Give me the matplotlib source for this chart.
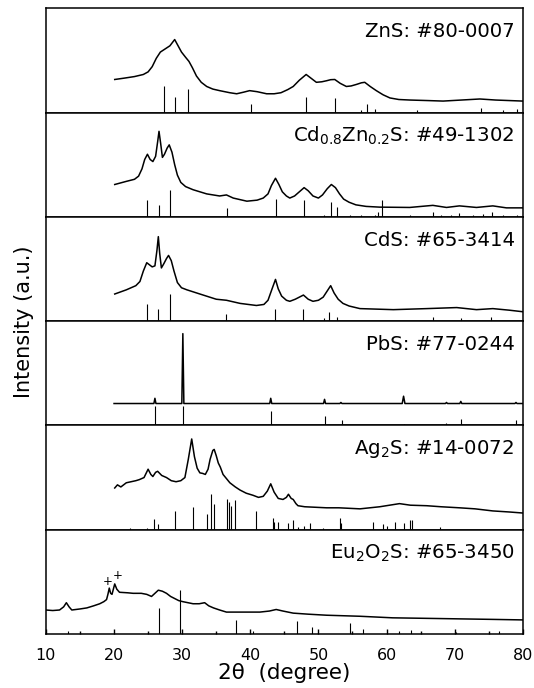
import matplotlib
matplotlib.use('Agg')
import matplotlib.pyplot as plt

# ZnS
zns_x = [20.1, 21.5, 23.0, 24.3, 25.0, 25.6, 26.2, 26.8, 27.5, 28.2, 28.9, 29.4, 29.9, 30.5, 31.0,
         31.5, 32.1, 32.8, 33.6, 34.5, 35.5, 37.0, 38.0, 39.0, 39.9, 41.0, 42.4, 43.5, 44.5, 45.5,
         46.3, 47.2, 48.2, 48.9, 49.7, 50.5, 51.2, 51.8, 52.4, 53.2, 54.1, 54.8, 55.6, 56.3, 56.8,
         57.6, 58.5, 59.5, 60.5, 61.8, 63.4, 66.0, 68.3, 71.0, 73.7, 76.0, 78.0, 80.0]
zns_y = [0.317, 0.33, 0.345, 0.365, 0.39, 0.44, 0.52, 0.58, 0.61, 0.64, 0.70, 0.64, 0.58, 0.53, 0.49,
         0.43, 0.35, 0.29, 0.25, 0.225, 0.21, 0.19, 0.18, 0.195, 0.21, 0.20, 0.18, 0.18, 0.19, 0.22,
         0.25, 0.31, 0.365, 0.33, 0.29, 0.295, 0.305, 0.315, 0.317, 0.28, 0.25, 0.255, 0.27, 0.285, 0.29,
         0.25, 0.21, 0.17, 0.14, 0.125, 0.12, 0.115, 0.11, 0.12, 0.13, 0.12, 0.115, 0.11]
zns_sticks = [27.3, 28.9, 30.9, 40.1, 48.2, 52.4, 56.3, 57.1, 58.3, 64.4, 73.9, 77.1, 79.1]
zns_sticks_h = [0.25, 0.15, 0.23, 0.08, 0.15, 0.14, 0.02, 0.08, 0.03, 0.02, 0.04, 0.02, 0.03]

# Cd0.8Zn0.2S
cdzns_x = [20.1, 21.8, 23.0, 23.6, 24.1, 24.5, 24.9, 25.3, 25.7, 26.1, 26.4, 26.6, 26.85, 27.1,
           27.4, 27.8, 28.1, 28.5, 28.9, 29.3, 29.8, 30.5, 31.6, 33.6, 35.5, 36.5, 37.5, 39.5,
           41.0, 41.9, 42.6, 43.1, 43.7, 44.2, 44.7, 45.3, 45.8, 46.5, 47.2, 47.9, 48.5, 49.2,
           50.0, 50.6, 51.3, 51.9, 52.5, 53.1, 53.7, 54.5, 55.5, 57.0, 59.0, 63.4, 66.8, 68.8,
           70.7, 73.2, 75.6, 77.6, 80.0]
cdzns_y = [0.31, 0.34, 0.36, 0.39, 0.46, 0.55, 0.60, 0.55, 0.53, 0.58, 0.72, 0.82, 0.70, 0.57,
           0.60, 0.66, 0.69, 0.62, 0.50, 0.40, 0.33, 0.29, 0.26, 0.22, 0.20, 0.21, 0.18, 0.15,
           0.16, 0.18, 0.22, 0.30, 0.37, 0.31, 0.24, 0.20, 0.18, 0.20, 0.24, 0.28, 0.25, 0.20,
           0.18, 0.21, 0.27, 0.31, 0.28, 0.22, 0.17, 0.14, 0.115, 0.10, 0.093, 0.09, 0.11, 0.09,
           0.105, 0.09, 0.105, 0.086, 0.086]
cdzns_sticks = [24.9, 26.6, 28.2, 36.6, 43.8, 47.9, 50.8, 51.8, 52.8, 54.6, 56.3, 58.3, 58.8, 59.4,
                63.4, 66.8, 68.0, 69.5, 70.7, 72.7, 74.1, 75.5, 77.1, 79.1]
cdzns_sticks_h = [0.16, 0.11, 0.26, 0.086, 0.175, 0.166, 0.02, 0.144, 0.09, 0.016, 0.016, 0.02, 0.05, 0.16,
                  0.016, 0.05, 0.02, 0.02, 0.04, 0.02, 0.03, 0.05, 0.02, 0.02]

# CdS
cds_x = [20.1, 21.8, 23.2, 23.8, 24.3, 24.8, 25.2, 25.6, 26.0, 26.3, 26.5, 26.7, 26.95, 27.3,
         27.7, 28.0, 28.4, 28.8, 29.3, 29.9, 30.7, 32.6, 35.0, 36.5, 38.5, 40.9, 42.0, 42.6,
         43.2, 43.7, 44.1, 44.6, 45.3, 45.8, 46.6, 47.2, 47.8, 48.5, 49.2, 50.0, 50.7, 51.3,
         51.8, 52.3, 52.9, 53.6, 54.5, 56.1, 61.0, 65.9, 70.3, 73.2, 75.6, 78.0, 80.0]
cds_y = [0.26, 0.30, 0.34, 0.38, 0.48, 0.56, 0.54, 0.52, 0.53, 0.68, 0.81, 0.65, 0.51, 0.55,
         0.60, 0.63, 0.58, 0.48, 0.37, 0.32, 0.30, 0.26, 0.21, 0.20, 0.17, 0.15, 0.16, 0.20,
         0.31, 0.40, 0.31, 0.24, 0.20, 0.19, 0.21, 0.23, 0.25, 0.21, 0.19, 0.20, 0.23, 0.29,
         0.34, 0.27, 0.21, 0.17, 0.145, 0.12, 0.11, 0.12, 0.13, 0.11, 0.12, 0.105, 0.09]
cds_sticks = [24.9, 26.5, 28.2, 36.5, 43.7, 47.8, 50.8, 51.6, 52.8, 66.8, 70.9, 75.3]
cds_sticks_h = [0.166, 0.12, 0.26, 0.07, 0.12, 0.12, 0.03, 0.09, 0.04, 0.04, 0.03, 0.04]

# PbS
pbs_x = [20.0, 25.85, 26.0, 26.15, 29.95, 30.1, 30.25, 42.85, 43.0, 43.15, 50.75, 50.9, 51.05,
         53.15, 53.3, 53.45, 62.3, 62.5, 62.7, 68.65, 68.8, 68.95, 70.75, 70.9, 71.05, 78.85,
         79.0, 79.15, 80.0]
pbs_y = [0.21, 0.21, 0.26, 0.21, 0.21, 0.88, 0.21, 0.21, 0.26, 0.21, 0.21, 0.25, 0.21,
         0.21, 0.22, 0.21, 0.21, 0.28, 0.21, 0.21, 0.22, 0.21, 0.21, 0.23, 0.21, 0.21,
         0.22, 0.21, 0.21]
pbs_sticks = [26.0, 30.1, 43.0, 50.9, 53.4, 62.5, 68.8, 70.9, 79.0]
pbs_sticks_h = [0.19, 0.19, 0.135, 0.087, 0.055, 0.016, 0.026, 0.058, 0.048]

# Ag2S
ag2s_x = [20.1, 20.5, 21.0, 21.8, 22.5, 23.2, 23.7, 24.4, 25.0, 25.4, 25.7, 26.1, 26.4, 27.0,
          27.7, 28.4, 29.1, 29.8, 30.4, 30.9, 31.4, 31.8, 32.2, 32.6, 33.0, 33.4, 33.8, 34.1,
          34.5, 34.7, 35.0, 35.3, 35.6, 36.0, 36.5, 37.0, 37.8, 38.5, 39.4, 40.4, 41.2, 41.9,
          42.5, 43.0, 43.5, 44.1, 44.8, 45.3, 45.6, 46.0, 46.3, 46.7, 47.0, 48.0, 51.2, 53.0,
          56.1, 59.0, 61.9, 63.5, 65.9, 68.0, 70.7, 73.0, 75.6, 78.0, 80.0]
ag2s_y = [0.40, 0.43, 0.41, 0.45, 0.46, 0.47, 0.48, 0.50, 0.58, 0.53, 0.51, 0.55, 0.56, 0.52,
          0.50, 0.47, 0.46, 0.47, 0.50, 0.675, 0.87, 0.70, 0.59, 0.545, 0.54, 0.53, 0.58, 0.675,
          0.76, 0.77, 0.71, 0.64, 0.60, 0.53, 0.49, 0.45, 0.41, 0.38, 0.35, 0.33, 0.31, 0.32,
          0.37, 0.44, 0.36, 0.30, 0.29, 0.31, 0.34, 0.30, 0.29, 0.25, 0.23, 0.22, 0.21, 0.21,
          0.20, 0.22, 0.25, 0.235, 0.23, 0.22, 0.21, 0.20, 0.18, 0.17, 0.16]
ag2s_sticks = [22.3, 24.9, 25.9, 26.4, 29.0, 31.6, 33.6, 34.3, 34.7, 36.6, 36.9, 37.2, 37.7, 40.8,
               43.4, 43.5, 44.1, 45.5, 46.2, 47.0, 47.9, 48.7, 50.7, 53.1, 53.3, 58.0, 59.5, 60.0,
               61.2, 62.6, 63.4, 63.8, 67.8]
ag2s_sticks_h = [0.02, 0.02, 0.10, 0.05, 0.18, 0.22, 0.155, 0.34, 0.25, 0.29, 0.27, 0.23, 0.285, 0.18,
                 0.11, 0.075, 0.075, 0.065, 0.09, 0.03, 0.04, 0.06, 0.02, 0.11, 0.065, 0.075, 0.05, 0.04,
                 0.075, 0.06, 0.09, 0.09, 0.03]

# Eu2O2S
euos_x = [10.0, 11.0, 12.0, 12.6, 13.0, 13.4, 13.8, 15.0, 16.0, 17.0, 17.9, 18.5, 18.9, 19.1,
          19.3, 19.5, 19.7, 19.9, 20.1, 20.4, 20.8, 22.0, 22.8, 24.0, 24.8, 25.5, 26.0, 26.5,
          27.1, 27.7, 28.3, 28.9, 29.5, 30.1, 31.6, 32.5, 33.3, 33.9, 34.6, 35.5, 36.5, 39.0,
          41.4, 42.8, 43.8, 44.8, 46.3, 48.5, 51.2, 56.1, 60.9, 65.9, 70.7, 75.6, 80.0]
euos_y = [0.23, 0.225, 0.23, 0.26, 0.30, 0.26, 0.23, 0.24, 0.25, 0.27, 0.29, 0.31, 0.33, 0.38,
          0.44, 0.39, 0.38, 0.43, 0.48, 0.43, 0.40, 0.395, 0.39, 0.39, 0.38, 0.36, 0.39, 0.42,
          0.41, 0.39, 0.36, 0.34, 0.32, 0.31, 0.29, 0.29, 0.30, 0.27, 0.25, 0.23, 0.21, 0.21,
          0.21, 0.22, 0.235, 0.22, 0.20, 0.19, 0.18, 0.17, 0.155, 0.15, 0.145, 0.14, 0.135]
euos_sticks = [13.3, 26.6, 29.7, 37.9, 40.4, 46.9, 49.1, 54.7, 56.5, 61.9, 63.6, 70.2, 76.5]
euos_sticks_h = [0.03, 0.25, 0.42, 0.13, 0.03, 0.12, 0.07, 0.11, 0.05, 0.03, 0.04, 0.016, 0.03]
impurity_x = [19.1, 20.6]
impurity_y = [0.50, 0.56]

labels = ['ZnS: #80-0007', 'Cd$_{0.8}$Zn$_{0.2}$S: #49-1302', 'CdS: #65-3414',
          'PbS: #77-0244', 'Ag$_2$S: #14-0072', 'Eu$_2$O$_2$S: #65-3450']
patterns = [(zns_x, zns_y), (cdzns_x, cdzns_y), (cds_x, cds_y),
            (pbs_x, pbs_y), (ag2s_x, ag2s_y), (euos_x, euos_y)]
sticks = [(zns_sticks, zns_sticks_h), (cdzns_sticks, cdzns_sticks_h), (cds_sticks, cds_sticks_h),
          (pbs_sticks, pbs_sticks_h), (ag2s_sticks, ag2s_sticks_h), (euos_sticks, euos_sticks_h)]

fig, axes = plt.subplots(6, 1, figsize=(5.34, 6.88), dpi=100, sharex=True,
                         gridspec_kw=dict(hspace=0))
fig.subplots_adjust(left=0.086, right=0.979, bottom=0.0785, top=0.988)

for ax, label, (x, y), (sx, sh) in zip(axes, labels, patterns, sticks):
    ax.plot(x, y, color='black', lw=1.1)
    ax.vlines(sx, 0, sh, color='black', lw=0.8)
    ax.set_ylim(0, 1)
    ax.set_yticks([])
    ax.text(0.983, 0.722, label, transform=ax.transAxes, ha='right', va='baseline', fontsize=14.2)
    for s in ax.spines.values():
        s.set_linewidth(1.1)
    ax.tick_params(axis='x', which='both', bottom=False, top=False)

# impurity marks on the Eu2O2S pattern
for px, py in zip(impurity_x, impurity_y):
    axes[-1].text(px, py, '+', ha='center', va='center', fontsize=8.5)

ax = axes[-1]
ax.set_xlim(10, 80)
ax.set_xticks(range(10, 81, 10))
ax.set_xticks(range(15, 80, 10), minor=True)
ax.tick_params(axis='x', which='both', bottom=True, direction='in', labelsize=11.5, pad=10)
ax.tick_params(axis='x', which='major', length=3.6, width=1)
ax.tick_params(axis='x', which='minor', length=2, width=1)
ax.set_xlabel('2θ  (degree)', fontsize=15.5, labelpad=0)

fig.text(0.045, 0.533, 'Intensity (a.u.)', rotation=90, ha='center', va='center', fontsize=15)

plt.savefig('out.png', dpi=100)
